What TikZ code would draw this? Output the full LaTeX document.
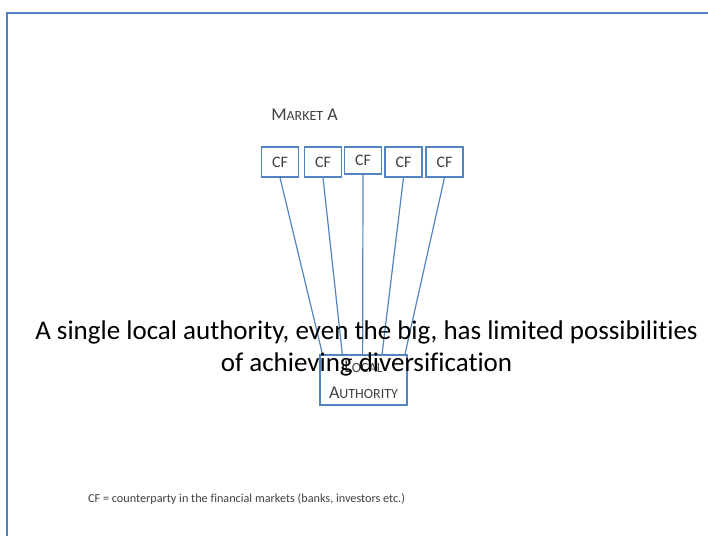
\documentclass[tikz,border=0pt]{standalone}
\usepackage{fontspec}
\setmainfont{Carlito}[Ligatures = NoCommon]
\usetikzlibrary{calc}
\definecolor{frameblue}{RGB}{79,129,189}
\definecolor{linkblue}{RGB}{84,132,192}
\definecolor{txtgray}{RGB}{64,64,64}
\newcommand{\fsc}[2]{#1{\fontsize{14}{16}\selectfont #2}}
\tikzset{
	cfbox/.style = {draw = linkblue, line width = 1.1pt, minimum width = 37pt, minimum height = 30pt, inner sep = 0pt, text = txtgray, font = \fontsize{16}{18}\selectfont},
	link/.style = {draw = linkblue, line width = 1.2pt}
}

\begin{document}
\begin{tikzpicture}[x = 1pt, y = -1pt]
	\useasboundingbox (0,0) rectangle (708,536);
	\draw[frameblue, line width = 2pt] (7,536) -- (7,13) -- (708,13);
	\node[text = txtgray, font = \fontsize{18}{20}\selectfont] (mkt) at (304.5,115) {\fsc{M}{ARKET} A};
	\node[cfbox] (cf1) at (280,162) {CF};
	\node[cfbox] (cf2) at (323,162) {CF};
	\node[cfbox, minimum height = 27pt] (cf3) at (363,160.5) {CF};
	\node[cfbox] (cf4) at (403.5,162) {CF};
	\node[cfbox] (cf5) at (444.5,162) {CF};
	\node[draw = linkblue, line width = 1.1pt, minimum width = 87pt, minimum height = 50pt, inner sep = 0pt, text = txtgray, align = center, font = \fontsize{18}{26}\selectfont] (la) at (363.5,380) {\fsc{L}{OCAL}\\\fsc{A}{UTHORITY}};
	\foreach \i/\f in {1/.035, 2/.26, 3/.49, 4/.71, 5/.97}
		\draw[link] (cf\i.south) -- ($(la.north west)!\f!(la.north east)$);
	\node[align = center, inner sep = 0pt, font = \fontsize{27}{32}\selectfont] (msg) at (366.5,348) {A single local authority, even the big, has limited possibilities\\of achieving diversification};
	\node[text = txtgray, inner sep = 0pt, font = \fontsize{12.2}{14}\selectfont, anchor = west] (note) at (88,499) {CF = counterparty in the financial markets (banks, investors etc.)};
\end{tikzpicture}
\end{document}
